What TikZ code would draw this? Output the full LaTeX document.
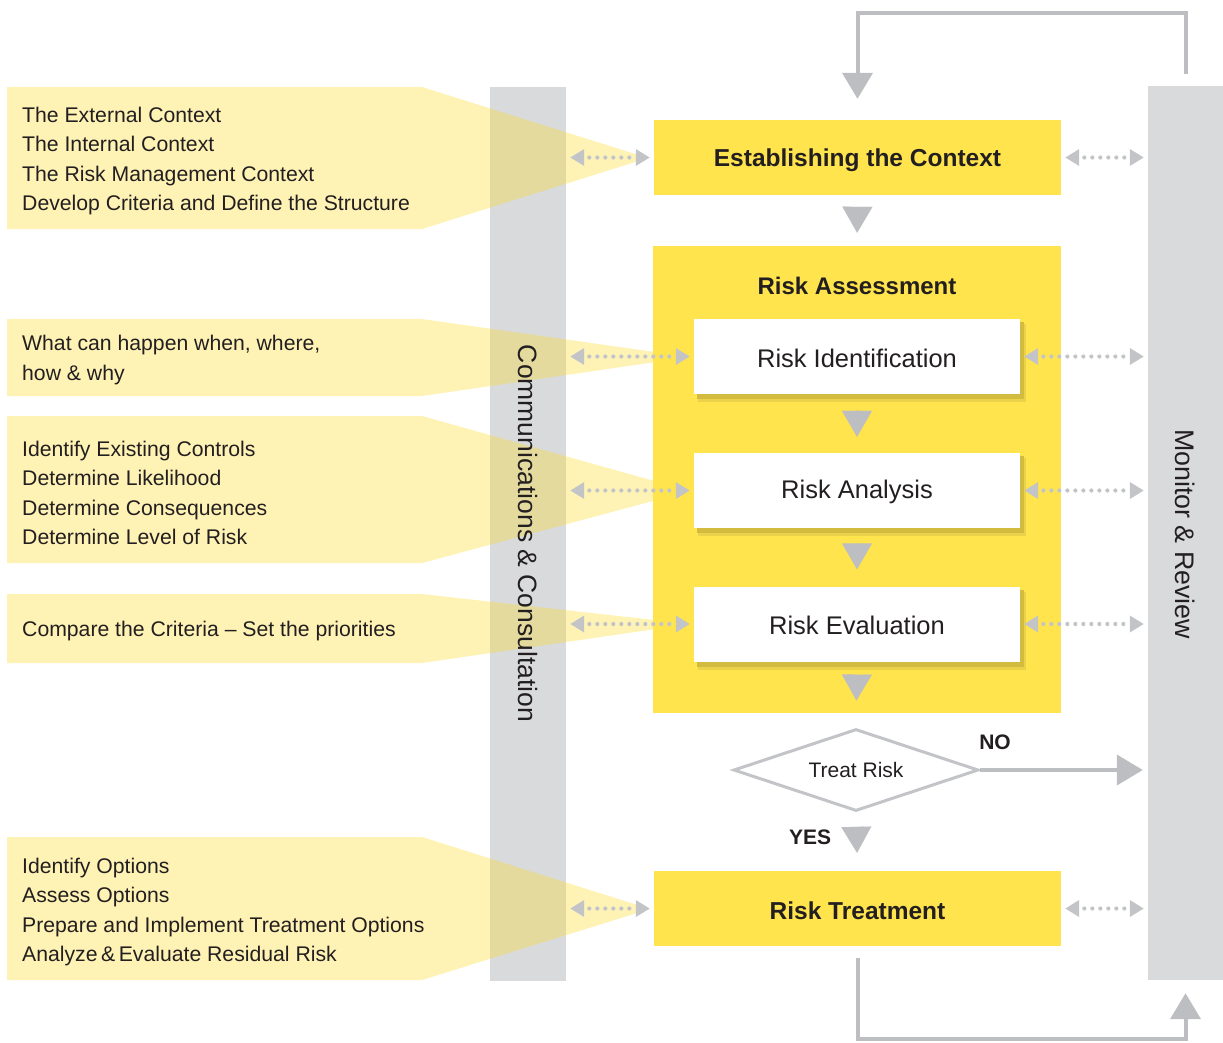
\documentclass[tikz,border=0pt]{standalone}
\usepackage{fontspec}
\setmainfont{Liberation Sans}
\usetikzlibrary{arrows.meta,shapes.geometric}
\definecolor{ybox}{HTML}{FFE44D}
\definecolor{gbar}{HTML}{D9DADC}
\definecolor{agray}{HTML}{BDBEC2}
\definecolor{dgray}{HTML}{C3C4C7}
\definecolor{txt}{HTML}{231F20}
\definecolor{funnel}{HTML}{FCDA2C}
\definecolor{shad}{HTML}{D3BB40}
\definecolor{shadl}{HTML}{EAD24A}
\begin{document}
\begin{tikzpicture}[x=1pt,y=-1pt,
  bar/.style={fill=gbar, draw=none, inner sep=0pt, minimum width=76pt, minimum height=894pt},
  yb/.style={fill=ybox, inner sep=0pt, minimum width=407pt, minimum height=75pt, font=\fontsize{24.5}{28}\selectfont\bfseries, text=txt},
  ybt/.style={inner sep=0pt, text=txt, font=\fontsize{24.5}{28}\selectfont\bfseries},
  wb/.style={fill=white, inner sep=0pt, minimum width=326pt, minimum height=75pt},
  wbt/.style={inner sep=0pt, text=txt, font=\fontsize{25.5}{30}\selectfont},
  lefttxt/.style={anchor=west, align=left, inner sep=0pt, font=\fontsize{21.2}{29.2}\selectfont, text=txt},
  fun/.style={fill=funnel, fill opacity=0.35},
  dotarr/.style={draw=dgray, line width=4.2pt, line cap=round, dash pattern=on 0pt off 8pt, dash phase=2pt,
     {Triangle[length=14pt,width=16pt]}-{Triangle[length=14pt,width=16pt]}, shorten <=4pt, shorten >=4pt},
  loopline/.style={draw=agray, line width=4pt, line join=miter, -{Triangle[length=26pt,width=30pt]}},
  downtri/.style={draw=agray, line width=0.1pt, -{Triangle[length=26pt,width=30pt]}},
  lbl/.style={inner sep=0pt, text=txt, font=\fontsize{21}{24}\selectfont\bfseries}
]
\useasboundingbox (0,0) rectangle (1223,1042);

% side bars
\node[bar] (comm) at (528,533.5) {};
\node[bar, minimum width=75pt] (mon) at (1185.5,533) {};

% funnels
\fill[fun] (7,87) -- (422,87) -- (648,158) -- (422,229) -- (7,229) -- cycle;
\fill[fun] (7,319) -- (422,319) -- (690,357) -- (422,396) -- (7,396) -- cycle;
\fill[fun] (7,416) -- (422,416) -- (690,491) -- (422,563) -- (7,563) -- cycle;
\fill[fun] (7,594) -- (422,594) -- (690,624) -- (422,663) -- (7,663) -- cycle;
\fill[fun] (7,837) -- (422,837) -- (650,909) -- (422,980) -- (7,980) -- cycle;

% main boxes
\node[yb] (ctx) at (857.5,157.5) {};
\node[ybt] (ctxt) at (857.5,160) {Establishing the Context};
\node[fill=ybox, inner sep=0pt, minimum width=408pt, minimum height=467pt] (ra) at (857,479.5) {};
\node[inner sep=0pt, text=txt, font=\fontsize{24}{28}\selectfont\bfseries] (ratitle) at (857,286) {Risk Assessment};

\foreach \yy in {356.5,490.5,624}{
  \fill[shadl] (698,\yy-37.5+5) rectangle (1026,\yy+37.5+8);
  \fill[shad] (697,\yy-37.5+3) rectangle (1024,\yy+37.5+5);
}
\node[wb] (ri) at (857,356.5) {};
\node[wb] (rana) at (857,490.5) {};
\node[wb] (reval) at (857,624) {};
\node[wbt] (rit) at (857,358.5) {Risk Identification};
\node[wbt] (ranat) at (857,492) {Risk Analysis};
\node[wbt] (revalt) at (857,625.5) {Risk Evaluation};

\node[draw=dgray, line width=3pt, diamond, aspect=3, minimum width=245pt, minimum height=82pt, inner sep=0pt] (tr) at (856,770) {};
\node[inner sep=0pt, text=txt, font=\fontsize{21}{24}\selectfont] (trt) at (856,770) {Treat Risk};
\node[yb] (rt) at (857.5,908.5) {};
\node[ybt] (rtt) at (857.5,911) {Risk Treatment};

\node[lbl] (no) at (995,742) {NO};
\node[lbl] (yes) at (810,837) {YES};

% side bar labels
\node[rotate=-90, inner sep=0pt, text=txt, font=\fontsize{26.5}{30}\selectfont] (commtxt) at (comm.center) {Communications \& Consultation};
\node[rotate=-90, inner sep=0pt, text=txt, font=\fontsize{26.8}{30}\selectfont] (montxt) at (1185,534) {Monitor \& Review};

% left texts
\node[lefttxt] (t1) at (22,161) {The External Context\\The Internal Context\\The Risk Management Context\\Develop Criteria and Define the Structure};
\node[lefttxt] (t2) at (22,360) {What can happen when, where,\\how \& why};
\node[lefttxt] (t3) at (22,493) {Identify Existing Controls\\Determine Likelihood\\Determine Consequences\\Determine Level of Risk};
\node[lefttxt] (t4) at (22,631) {Compare the Criteria -- Set the priorities};
\node[lefttxt] (t5) at (22,912) {Identify Options\\Assess Options\\Prepare and Implement Treatment Options\\Analyze\,\&\,Evaluate Residual Risk};

% dotted connectors
\draw[dotarr] (comm.east |- ctx.west) -- (ctx.west);
\draw[dotarr] (ctx.east) -- (mon.west |- ctx.east);
\draw[dotarr] (comm.east |- ri.west) -- (ri.west);
\draw[dotarr] (ri.east) -- (mon.west |- ri.east);
\draw[dotarr] (comm.east |- rana.west) -- (rana.west);
\draw[dotarr] (rana.east) -- (mon.west |- rana.east);
\draw[dotarr] (comm.east |- reval.west) -- (reval.west);
\draw[dotarr] (reval.east) -- (mon.west |- reval.east);
\draw[dotarr] (comm.east |- rt.west) -- (rt.west);
\draw[dotarr] (rt.east) -- (mon.west |- rt.east);

% flow triangles
\draw[downtri, shorten <=12pt, shorten >=13pt] (ctx.south) -- (ra.north);
\draw[downtri, shorten <=16pt, shorten >=16pt] (ri.south) -- (rana.north);
\draw[downtri, shorten <=16pt, shorten >=17pt] (rana.south) -- (reval.north);
\draw[downtri, shorten <=14.5pt, shorten >=27pt] (reval.south) -- (tr.north);
\draw[downtri, shorten <=17pt, shorten >=18pt] (tr.south) -- (rt.north);

% NO arrow
\draw[loopline, shorten >=5pt] (tr.east) -- (mon.west |- tr.east);

% loops
\draw[loopline, shorten <=12pt, shorten >=21pt] (mon.north) -- ++(0,-73) -| (ctx.north);
\draw[loopline, shorten <=12pt, shorten >=13pt] (rt.south) -- ++(0,93) -| (mon.south);
\end{tikzpicture}
\end{document}
